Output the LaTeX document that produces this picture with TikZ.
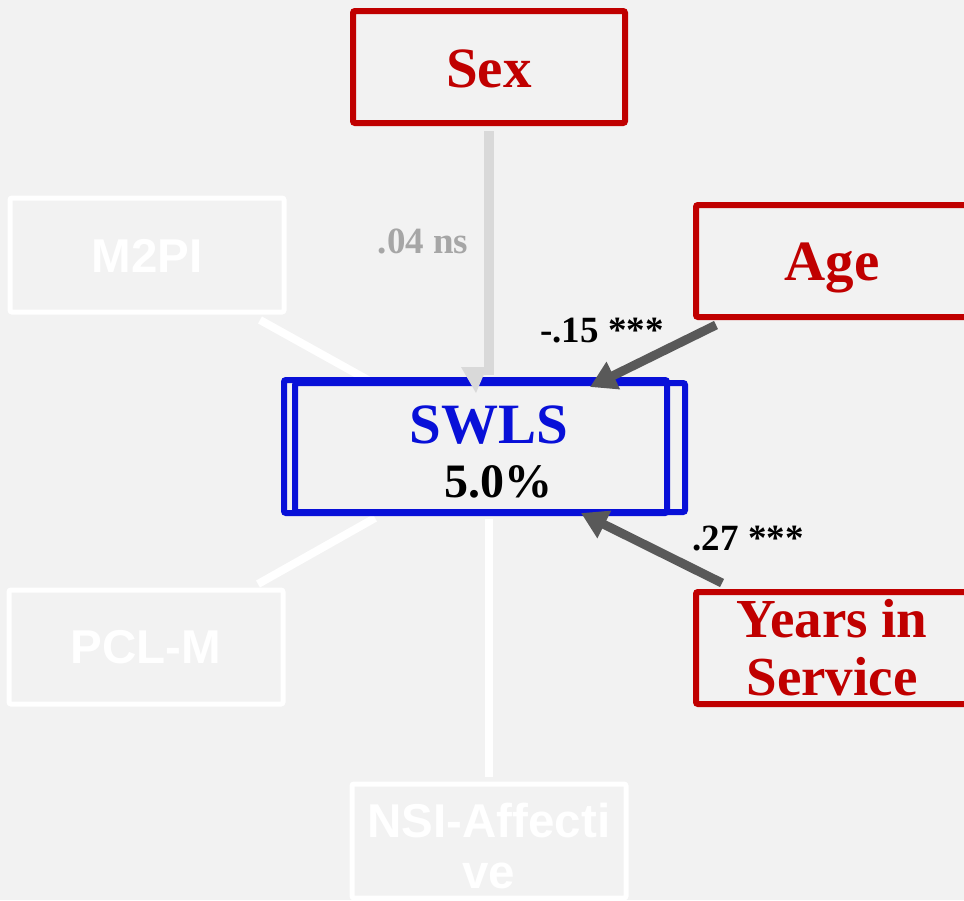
\documentclass[tikz,border=0pt]{standalone}
\usepackage{fontspec}
\setmainfont{Liberation Serif}
\newfontfamily\arialf{Liberation Sans}
\usetikzlibrary{arrows.meta,backgrounds,calc}
\definecolor{bgc}{RGB}{242,242,242}
\definecolor{redc}{RGB}{192,0,0}
\definecolor{bluec}{RGB}{8,16,216}
\definecolor{dgray}{RGB}{89,89,89}
\definecolor{lgray}{RGB}{217,217,217}
\definecolor{mgray}{RGB}{166,166,166}
\begin{document}
\begin{tikzpicture}[x=1pt,y=-1pt,
  box/.style={draw, rectangle, rounded corners=2pt, minimum width=272pt, minimum height=112pt, inner sep=0pt, outer sep=0pt},
  redbox/.style={box, draw=redc, line width=6pt},
  whitebox/.style={box, draw=white, line width=5pt, minimum width=274pt, minimum height=114pt},
  bluebox/.style={draw=bluec, line width=6pt, rectangle, rounded corners=2pt, inner sep=0pt, outer sep=0pt},
  rtext/.style={anchor=base, inner sep=0pt, text=redc, font=\fontsize{57}{60}\selectfont\bfseries},
  ytext/.style={anchor=base, inner sep=0pt, text=redc, font=\fontsize{55}{58}\selectfont\bfseries},
  wtext/.style={anchor=base, inner sep=0pt, text=white, font=\arialf\fontsize{47.5}{50}\selectfont\bfseries},
  lbl/.style={anchor=base, inner sep=0pt, font=\fontsize{37}{40}\selectfont\bfseries},
  wline/.style={white, line width=8pt},
  sline/.style={lgray, line width=10pt},
  darrow/.style={dgray, line width=9pt, -{Triangle[length=26pt,width=29pt]}},
]
\useasboundingbox (0,0) rectangle (964,900);
\begin{pgfonlayer}{background}
  \fill[bgc] (0,0) rectangle (964,900);
\end{pgfonlayer}

% boxes
\node[redbox] (sex) at (489,67) {};
\node[redbox] (age) at (832,261) {};
\node[redbox] (yrs) at (832,648) {};
\node[whitebox] (m2pi) at (147,255) {};
\node[whitebox] (pcl) at (146,647) {};
\node[whitebox] (nsi) at (489,841) {};
\node[bluebox, minimum width=383pt, minimum height=133pt] (swls) at (475.5,446.5) {};
\node[bluebox, minimum width=390pt, minimum height=129pt] (swlsb) at (490,447.5) {};

% texts
\node[rtext] (sext) at ($(sex.center)+(0,20)$) {Sex};
\node[rtext] (aget) at ($(age.center)+(0,19)$) {Age};
\node[ytext] (yrst1) at ($(yrs.center)+(0,-11)$) {Years in};
\node[ytext] (yrst2) at ($(yrs.center)+(0,47)$) {Service};
\node[wtext] (m2pit) at ($(m2pi.center)+(0,17)$) {M2PI};
\node[wtext] (pclt) at ($(pcl.center)+(0,16)$) {PCL-M};
\node[wtext] (nsit1) at ($(nsi.center)+(0,-4)$) {NSI-Affecti};
\node[wtext] (nsit2) at ($(nsi.center)+(0,47)$) {ve};
\node[anchor=base, inner sep=0pt, text=bluec, font=\fontsize{57}{60}\selectfont\bfseries] (swlst) at (489,443) {SWLS};
\node[anchor=base, inner sep=0pt, font=\fontsize{48}{50}\selectfont\bfseries] (pct) at (498,497) {5.0\%};

% labels
\node[lbl, text=mgray] (l1) at (423,253) {.04 ns};
\node[lbl] (l2) at (602,342) {-.15 ***};
\node[lbl] (l3) at (748,550) {.27 ***};

% connectors
\begin{pgfonlayer}{background}
  \draw[wline] ($(m2pi.south east)+(-24,8)$) -- ($(swls.north west)+(84,0)$);
  \draw[wline] ($(pcl.north east)+(-25,-6)$) -- ($(swls.south west)+(91,5)$);
  \draw[wline] ($(nsi.north)+(0,-7)$) -- ($(nsi.north |- swls.south)+(0,6)$);
  \draw[sline] ($(sex.south)+(0,8)$) -- ($(sex.south |- swls.north)+(0,-5)$);
\end{pgfonlayer}
\fill[lgray] ($(swls.north)+(-14.5,-13)$) -- ($(swls.north)+(11.5,-13)$) -- ($(swls.north)+(0.5,13)$) -- cycle;
\draw[darrow] ($(age.south west)+(20,8)$) -- ($(swls.north east)+(-77,7)$);
\draw[darrow] ($(yrs.north west)+(26,-9)$) -- ($(swls.south east)+(-86,0)$);
\end{tikzpicture}
\end{document}
